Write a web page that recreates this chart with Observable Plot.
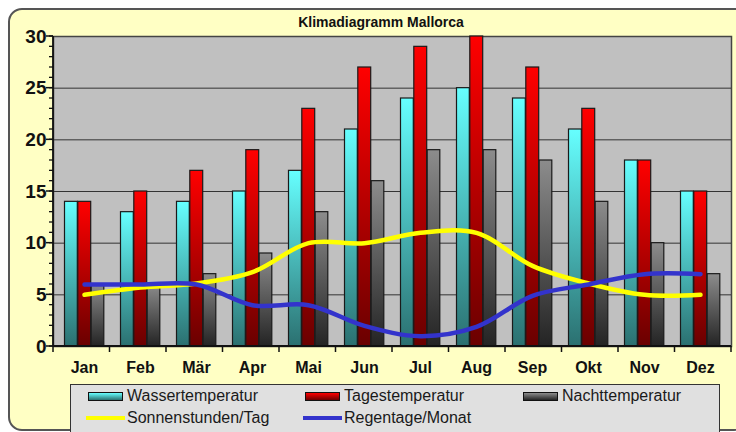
<!DOCTYPE html>
<html>
<head>
<meta charset="utf-8">
<script src="https://cdn.jsdelivr.net/npm/d3@7"></script>
<script src="https://cdn.jsdelivr.net/npm/@observablehq/plot@0.6"></script>
<style>
  html, body { margin: 0; padding: 0; }
  body { width: 736px; height: 432px; overflow: hidden; background: #ffffff; position: relative;
         font-family: "Liberation Sans", Arial, sans-serif; }
  #box { position: absolute; left: 8px; top: 8px; width: 740px; height: 423px; box-sizing: border-box;
         background: #ffffc4; border: 2px solid #555; border-radius: 14px 8px 14px 14px; }
  #title { position: absolute; left: 231px; width: 300px; top: 14px; line-height: 16px; text-align: center;
           font-size: 14px; font-weight: bold; color: #111; }
  #chart { position: absolute; left: 0; top: 0; }
  #legend { position: absolute; left: 70px; top: 384px; width: 650px; height: 70px; box-sizing: border-box;
            background: #e0e0e0; border: 1.5px solid #333; }
  .sw { position: absolute; width: 35px; height: 9px; box-sizing: border-box; border: 1px solid #111; }
  .ln { position: absolute; width: 39px; height: 4px; }
  .lt { position: absolute; font-size: 16px; line-height: 20px; color: #1a1a1a; white-space: nowrap; }
</style>
</head>
<body>
<div id="box"></div>
<div id="title"></div>
<div id="chart"></div>
<div id="legend"></div>
<div id="legendItems"></div>
<script>
// ---- data ----
const title = "Klimadiagramm Mallorca";
const months = ["Jan","Feb","Mär","Apr","Mai","Jun","Jul","Aug","Sep","Okt","Nov","Dez"];
const wassertemperatur = [14,13,14,15,17,21,24,25,24,21,18,15];
const tagestemperatur  = [14,15,17,19,23,27,29,30,27,23,18,15];
const nachttemperatur  = [6,6,7,9,13,16,19,19,18,14,10,7];
const sonnenstunden    = [5,5.7,6.1,7.2,10,10,11,11,7.8,6.1,5,5];
const regentage        = [6,6,6,4,4,2,1,1.9,4.9,6,7,7];
const yTicks = [0,5,10,15,20,25,30];
const seriesNames = ["Wassertemperatur","Tagestemperatur","Nachttemperatur","Sonnenstunden/Tag","Regentage/Monat"];

const rows = months.map((m, i) => ({
  month: m,
  wasser: wassertemperatur[i],
  tages: tagestemperatur[i],
  nacht: nachttemperatur[i],
  sonne: sonnenstunden[i],
  regen: regentage[i]
}));

document.getElementById("title").textContent = title;

// gradients for the bars
function defsMark() {
  const defs = d3.create("svg:defs");
  const grads = [["gWasser","#66ffff","#2b7070"],["gTages","#ff0000","#6a0000"],["gNacht","#8c8c8c","#242424"]];
  for (const [id, a, b] of grads) {
    const lg = defs.append("linearGradient").attr("id", id)
      .attr("x1", 0).attr("y1", 0).attr("x2", 0).attr("y2", 1);
    lg.append("stop").attr("offset", "0%").attr("stop-color", a);
    lg.append("stop").attr("offset", "100%").attr("stop-color", b);
  }
  return defs.node();
}

// axis lines and tick marks
function axesMark(index, scales, values, dims) {
  const {width, height, marginLeft: L, marginRight: R, marginTop: T, marginBottom: B} = dims;
  const y = scales.y;
  const x0 = L, x1 = width - R, yb = height - B;
  const g = d3.create("svg:g").attr("stroke", "#111").attr("fill", "none");
  for (const v of y.ticks(30)) {
    g.append("line").attr("x1", x0 - 4).attr("x2", x0).attr("y1", y(v)).attr("y2", y(v)).attr("stroke-width", 1.3);
  }
  for (const v of yTicks) {
    g.append("line").attr("x1", x0 - 7).attr("x2", x0).attr("y1", y(v)).attr("y2", y(v)).attr("stroke-width", 1.5);
  }
  g.append("line").attr("x1", x0).attr("x2", x0).attr("y1", T).attr("y2", yb).attr("stroke-width", 1.8);
  g.append("line").attr("x1", x0).attr("x2", x1).attr("y1", yb).attr("y2", yb).attr("stroke-width", 1.8);
  const step = (x1 - x0) / months.length;
  for (let i = 0; i <= months.length; i++) {
    const xx = x0 + i * step;
    g.append("line").attr("x1", xx).attr("x2", xx).attr("y1", yb).attr("y2", yb + 6).attr("stroke-width", 1.5);
  }
  return g.node();
}

const barStroke = {stroke: "#1a1a1a", strokeWidth: 1.2};

const plot = Plot.plot({
  width: 736,
  height: 384,
  marginLeft: 53,
  marginRight: 5,
  marginTop: 36,
  marginBottom: 38,
  style: {background: "transparent", overflow: "visible", fontFamily: "'Liberation Sans', Arial, sans-serif"},
  x: {domain: months, padding: 0, axis: null},
  y: {domain: [0, 30], axis: null},
  marks: [
    defsMark,
    Plot.frame({fill: "#c0c0c0", stroke: "#444", strokeWidth: 1.5}),
    Plot.ruleY(yTicks.slice(1, -1), {stroke: "#333", strokeWidth: 1}),
    Plot.barY(rows, {x: "month", y: "wasser", fill: "url(#gWasser)", ...barStroke, insetLeft: 8.5, insetRight: 34.7}),
    Plot.barY(rows, {x: "month", y: "tages", fill: "url(#gTages)", ...barStroke, insetLeft: 21.8, insetRight: 21.3}),
    Plot.barY(rows, {x: "month", y: "nacht", fill: "url(#gNacht)", ...barStroke, insetLeft: 35.2, insetRight: 8.2}),
    Plot.line(rows, {x: "month", y: "sonne", curve: "catmull-rom", stroke: "#ffff00", strokeWidth: 4.5}),
    Plot.line(rows, {x: "month", y: "regen", curve: "catmull-rom", stroke: "#3333cc", strokeWidth: 4.5}),
    axesMark,
    Plot.text(yTicks, {y: d => d, frameAnchor: "left", dx: -7, textAnchor: "end", fontSize: 19, fontWeight: "bold", fill: "#111"}),
    Plot.text(months, {x: d => d, frameAnchor: "bottom", dy: 26, fontSize: 16, fontWeight: "bold", fill: "#111"})
  ]
});
document.getElementById("chart").appendChild(plot);

// ---- legend ----
const legendItems = document.getElementById("legendItems");
const swatches = [
  {name: seriesNames[0], kind: "sw", bg: "linear-gradient(#66ffff, #2b7070)", x: 88, y: 392, tx: 127, ty: 386},
  {name: seriesNames[1], kind: "sw", bg: "linear-gradient(#ff0000, #6a0000)", x: 305, y: 392, tx: 344, ty: 386},
  {name: seriesNames[2], kind: "sw", bg: "linear-gradient(#8c8c8c, #242424)", x: 523, y: 392, tx: 562, ty: 386},
  {name: seriesNames[3], kind: "ln", bg: "#ffff00", x: 86, y: 416, tx: 127, ty: 408},
  {name: seriesNames[4], kind: "ln", bg: "#3333cc", x: 303, y: 416, tx: 344, ty: 408}
];
for (const s of swatches) {
  const sw = document.createElement("div");
  sw.className = s.kind;
  sw.style.left = s.x + "px";
  sw.style.top = s.y + "px";
  sw.style.background = s.bg;
  legendItems.appendChild(sw);
  const t = document.createElement("div");
  t.className = "lt";
  t.style.left = s.tx + "px";
  t.style.top = s.ty + "px";
  t.textContent = s.name;
  legendItems.appendChild(t);
}
</script>
</body>
</html>
